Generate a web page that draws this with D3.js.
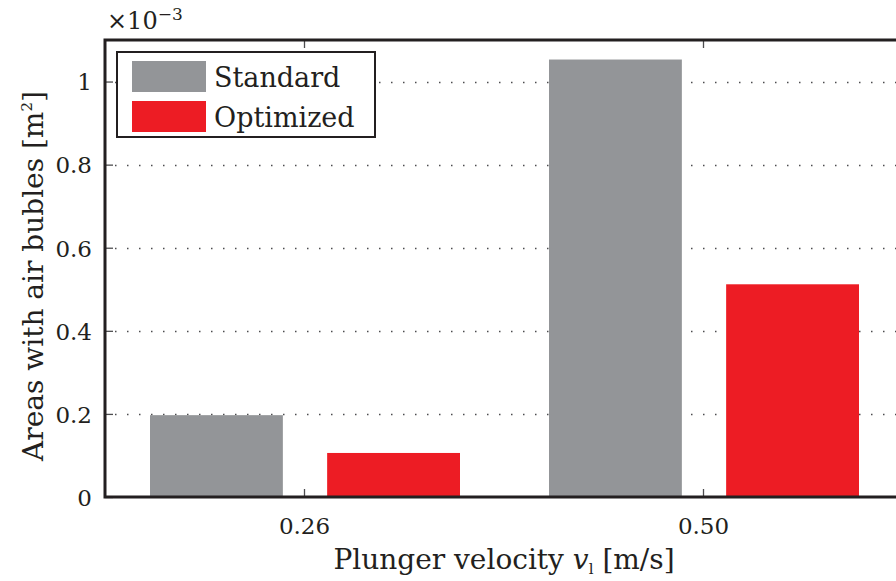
<!DOCTYPE html>
<html>
<head>
<meta charset="utf-8">
<script src="https://cdn.jsdelivr.net/npm/d3@7"></script>
<style>
  body { margin: 0; background: white; }
  text { font-family: "DejaVu Serif", "Liberation Serif", serif; fill: #231f20; }
</style>
</head>
<body>
<div id="chart"></div>
<script>
// data
let categories = ["0.26", "0.50"];
let series = ["Standard", "Optimized"];
let standardValues = [0.197e-3, 1.053e-3];
let optimizedValues = [0.106e-3, 0.512e-3];
let yTicks = [0, 0.2e-3, 0.4e-3, 0.6e-3, 0.8e-3, 1.0e-3];
let yTickLabels = ["0", "0.2", "0.4", "0.6", "0.8", "1"];
let colors = ["#939598", "#ed1c24"];

let W = 896, H = 581;
let margin = { top: 40, left: 105, right: -7, bottom: 84 };
let width = W - margin.left - margin.right,
    height = H - margin.top - margin.bottom;
let serif = "'DejaVu Serif', 'Liberation Serif', serif";

let svg = d3.select("#chart").append("svg")
  .attr("width", W)
  .attr("height", H);

let g = svg.append("g")
  .attr("transform", "translate(" + margin.left + "," + margin.top + ")");

let x = d3.scaleBand().domain(categories).range([0, width]).padding(0);
let xSub = d3.scaleBand().domain(series).range([45, 355]).paddingInner(0.25);
let y = d3.scaleLinear().domain([0, 1.1e-3]).range([height, 0]);
let color = d3.scaleOrdinal().domain(series).range(colors);

let rows = categories.map(function (c, i) {
  return { cat: c, values: [
    { key: "Standard", value: standardValues[i] },
    { key: "Optimized", value: optimizedValues[i] }
  ] };
});

// dotted grid lines
g.append("g")
  .selectAll("line")
  .data(yTicks.slice(1))
  .join("line")
  .attr("x1", 0).attr("x2", width)
  .attr("y1", d => Math.round(y(d)) + 0.5).attr("y2", d => Math.round(y(d)) + 0.5)
  .attr("stroke", "#4d4d4f")
  .attr("stroke-width", 1.3)
  .attr("stroke-dasharray", "1.5,10.5")
  .attr("stroke-dashoffset", -10);

// bars
g.append("g")
  .selectAll("g")
  .data(rows)
  .join("g")
  .attr("transform", d => "translate(" + x(d.cat) + ",0)")
  .selectAll("rect")
  .data(d => d.values)
  .join("rect")
  .attr("x", d => xSub(d.key))
  .attr("y", d => y(d.value))
  .attr("width", xSub.bandwidth())
  .attr("height", d => height - y(d.value))
  .attr("fill", d => color(d.key));

// y axis
let yAxis = g.append("g")
  .call(d3.axisLeft(y).tickValues(yTicks).tickFormat((d, i) => yTickLabels[i]).tickSize(-8).tickPadding(13));
yAxis.select(".domain").remove();
yAxis.selectAll(".tick line").attr("stroke", "#4d4d4f").attr("stroke-width", 1.3);
yAxis.selectAll(".tick text")
  .style("font-family", serif)
  .attr("font-size", 23).attr("fill", "#231f20").attr("dy", "0.36em");

// x axis (ticks pointing inward, bottom and top)
let xAxis = g.append("g")
  .attr("transform", "translate(0," + height + ")")
  .call(d3.axisBottom(x).tickSize(-8).tickPadding(21));
xAxis.select(".domain").remove();
xAxis.selectAll(".tick line").attr("stroke", "#4d4d4f").attr("stroke-width", 1.3);
xAxis.selectAll(".tick text")
  .style("font-family", serif)
  .attr("font-size", 23).attr("fill", "#231f20").attr("dy", "0.71em");

let xTop = g.append("g")
  .call(d3.axisTop(x).tickSize(-8).tickFormat(""));
xTop.select(".domain").remove();
xTop.selectAll(".tick line").attr("stroke", "#4d4d4f").attr("stroke-width", 1.3);

// frame lines
g.append("path")
  .attr("d", "M" + width + ",0H0V" + height + "H" + width)
  .attr("fill", "none")
  .attr("stroke", "#231f20")
  .attr("stroke-width", 3);

// exponent label
let expo = svg.append("text").attr("x", 107).attr("y", 29).attr("font-size", 24);
expo.append("tspan").text("×10");
expo.append("tspan").attr("font-size", 17).attr("dy", -9).text("−3");

// legend
let legend = svg.append("g").attr("transform", "translate(117,52)");
legend.append("rect")
  .attr("width", 258).attr("height", 85)
  .attr("fill", "white").attr("stroke", "#231f20").attr("stroke-width", 2);
let item = legend.selectAll(".item")
  .data(series)
  .join("g")
  .attr("class", "item")
  .attr("transform", (d, i) => "translate(15," + (9 + i * 40) + ")");
item.append("rect")
  .attr("width", 74).attr("height", 31)
  .attr("fill", d => color(d));
item.append("text")
  .attr("x", 82).attr("y", 26)
  .attr("font-size", 27)
  .text(d => d);

// axis titles
let xl = svg.append("text")
  .attr("x", margin.left + (896 + 7 - margin.left) / 2)
  .attr("y", 569)
  .attr("text-anchor", "middle")
  .attr("font-size", 28);
xl.append("tspan").text("Plunger velocity ");
xl.append("tspan").attr("font-style", "italic").text("v");
xl.append("tspan").attr("font-size", 15).attr("dy", 5).text("l");
xl.append("tspan").attr("dy", -5).text(" [m/s]");

let yl = svg.append("text")
  .attr("transform", "translate(43,276) rotate(-90)")
  .attr("text-anchor", "middle")
  .attr("font-size", 28);
yl.append("tspan").text("Areas with air bubles [m");
yl.append("tspan").attr("font-size", 15).attr("dy", -11).text("2");
yl.append("tspan").attr("dy", 11).text("]");
</script>
</body>
</html>
